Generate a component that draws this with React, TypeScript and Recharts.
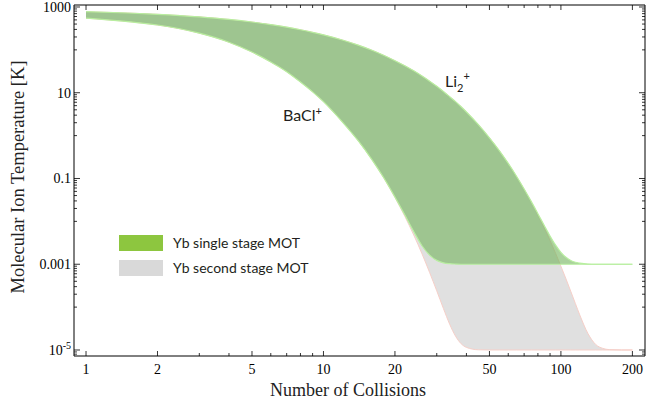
import { ComposedChart, Area, XAxis, YAxis } from "recharts";

// number of collisions (x) and temperatures (K)
const collisions = [
  1, 1.5, 2, 3, 4, 5, 6, 7, 8, 9, 10, 12, 14, 16, 18, 20, 22, 24, 26, 28, 30, 32, 34, 36, 38, 40, 45, 50,
  55, 60, 65, 70, 75, 80, 85, 90, 95, 100, 105, 110, 115, 120, 130, 140, 150, 160, 180, 200,
];

// BaCl+ (fast cooling edge) for the single stage MOT, floor ~1 mK
const baclSingle = [
  550, 457, 380, 245, 151, 89, 52, 31, 17.8, 10.5, 6.2, 2.1, 0.76, 0.276, 0.101, 0.037, 0.0142, 0.0058,
  0.0027, 0.00163, 0.00123, 0.00108, 0.00103, 0.00101, 0.001, 0.001, 0.001, 0.001, 0.001, 0.001, 0.001,
  0.001, 0.001, 0.001, 0.001, 0.001, 0.001, 0.001, 0.001, 0.001, 0.001, 0.001, 0.001, 0.001, 0.001, 0.001,
  0.001, 0.001,
];

// Li2+ (slow cooling edge) for the single stage MOT
const li2Single = [
  776, 724, 676, 589, 513, 447, 389, 339, 295, 257, 224, 170, 129, 98, 74, 56, 42.7, 32.4, 24.5, 18.6,
  14.1, 10.7, 8.1, 6.2, 4.7, 3.55, 1.78, 0.89, 0.448, 0.225, 0.113, 0.057, 0.0292, 0.0151, 0.00808,
  0.00455, 0.00278, 0.00189, 0.00145, 0.00122, 0.00111, 0.00106, 0.00101, 0.001, 0.001, 0.001, 0.001,
  0.001,
];

// same two edges for the second stage MOT, floor ~10 uK
const baclSecond = [
  550, 457, 380, 245, 151, 89, 52, 31, 17.8, 10.5, 6.2, 2.1, 0.76, 0.275, 0.1, 0.036, 0.0132, 0.0048,
  0.00175, 0.00064, 0.00024, 0.000093, 0.00004, 0.000021, 0.000014, 0.0000115, 0.0000101, 0.00001,
  0.00001, 0.00001, 0.00001, 0.00001, 0.00001, 0.00001, 0.00001, 0.00001, 0.00001, 0.00001, 0.00001,
  0.00001, 0.00001, 0.00001, 0.00001, 0.00001, 0.00001, 0.00001, 0.00001, 0.00001,
];

const li2Second = [
  776, 724, 676, 589, 513, 447, 389, 339, 295, 257, 224, 170, 129, 98, 74, 56, 42.7, 32.4, 24.5, 18.6,
  14.1, 10.7, 8.1, 6.2, 4.7, 3.55, 1.78, 0.89, 0.447, 0.224, 0.112, 0.056, 0.0282, 0.0141, 0.00709,
  0.00356, 0.00179, 0.0009, 0.000457, 0.000234, 0.000122, 0.000066, 0.0000241, 0.0000135, 0.0000109,
  0.0000102, 0.00001, 0.00001,
];

const xMajorTicks = [1, 2, 5, 10, 20, 50, 100, 200];
const xMinorTicks = [3, 4, 6, 7, 8, 9, 30, 40, 60, 70, 80, 90];
const yMajorTicks = [1e-5, 0.001, 0.1, 10, 1000];
const yMinorTicks = [
  8e-6, 9e-6, 1e-4, 2e-4, 3e-4, 4e-4, 5e-4, 6e-4, 7e-4, 8e-4, 9e-4, 0.01, 0.02, 0.03, 0.04, 0.05, 0.06,
  0.07, 0.08, 0.09, 1, 2, 3, 4, 5, 6, 7, 8, 9, 100, 200, 300, 400, 500, 600, 700, 800, 900,
];

const rows = collisions.map((n, i) => ({
  n,
  second: [baclSecond[i], li2Second[i]],
  single: [baclSingle[i], li2Single[i]],
}));

const xTicks = [...xMajorTicks, ...xMinorTicks].sort((a, b) => a - b);
const yTicks = [...yMajorTicks, ...yMinorTicks].sort((a, b) => a - b);

const SERIF = "'Liberation Serif', 'Times New Roman', serif";
const SANS = "Lato, 'Open Sans', sans-serif";

const isMajor = (list: number[], v: number) => list.some((m) => Math.abs(m - v) <= m * 1e-6);

const XTick = (props: any) => {
  const { x, y, payload, top } = props;
  const major = isMajor(xMajorTicks, payload.value);
  const len = major ? 5 : 3;
  return (
    <g>
      <line x1={x} x2={x} y1={y} y2={top ? y + len : y - len} stroke="#000" strokeWidth={0.8} />
      {!top && major && (
        <text x={x} y={y + 18} textAnchor="middle" fontFamily={SERIF} fontSize={14} fill="#000">
          {payload.value}
        </text>
      )}
    </g>
  );
};

const YTick = (props: any) => {
  const { x, y, payload, right } = props;
  const v = payload.value;
  const major = isMajor(yMajorTicks, v);
  const len = major ? 6 : 3;
  return (
    <g>
      <line x1={x} x2={right ? x - len : x + len} y1={y} y2={y} stroke="#000" strokeWidth={0.8} />
      {!right && major && (
        <text x={x - 3} y={y + 5} textAnchor="end" fontFamily={SERIF} fontSize={14} fill="#000">
          {v === 1e-5 ? (
            <>
              <tspan>10</tspan>
              <tspan dy={-6} fontSize={10}>
                -5
              </tspan>
            </>
          ) : (
            String(v)
          )}
        </text>
      )}
    </g>
  );
};

const axisLine = { stroke: "#000", strokeWidth: 1 };

export default function App() {
  return (
    <div style={{ position: "absolute", left: 0, top: 0, width: 646, height: 405, background: "#fff" }}>
      <ComposedChart width={646} height={405} data={rows} margin={{ top: 4, right: 0, left: 73, bottom: 48 }}>
        <XAxis
          dataKey="n"
          type="number"
          scale="log"
          domain={[0.89, 226]}
          allowDataOverflow
          ticks={xTicks}
          interval={0}
          height={1}
          tickSize={0}
          tickMargin={0}
          axisLine={axisLine}
          tickLine={false}
          tick={(p: any) => <XTick {...p} />}
        />
        <XAxis
          xAxisId="top"
          orientation="top"
          dataKey="n"
          type="number"
          scale="log"
          domain={[0.89, 226]}
          allowDataOverflow
          ticks={xTicks}
          interval={0}
          height={1}
          tickSize={0}
          tickMargin={0}
          axisLine={axisLine}
          tickLine={false}
          tick={(p: any) => <XTick {...p} top />}
        />
        <YAxis
          type="number"
          scale="log"
          domain={[7.24e-6, 1113]}
          allowDataOverflow
          ticks={yTicks}
          interval={0}
          width={1}
          tickSize={0}
          tickMargin={0}
          axisLine={axisLine}
          tickLine={false}
          tick={(p: any) => <YTick {...p} />}
        />
        <YAxis
          yAxisId="right"
          orientation="right"
          type="number"
          scale="log"
          domain={[7.24e-6, 1113]}
          allowDataOverflow
          ticks={yTicks}
          interval={0}
          width={1}
          tickSize={0}
          tickMargin={0}
          axisLine={axisLine}
          tickLine={false}
          tick={(p: any) => <YTick {...p} right />}
        />
        <Area
          dataKey="second"
          type="monotone"
          fill="#e0e0e0"
          fillOpacity={1}
          stroke="#f6cfc8"
          strokeWidth={1}
          dot={false}
          activeDot={false}
          isAnimationActive={false}
        />
        <Area
          dataKey="single"
          type="monotone"
          fill="#72b35a"
          fillOpacity={0.6}
          stroke="#b8eea0"
          strokeWidth={1.2}
          dot={false}
          activeDot={false}
          isAnimationActive={false}
        />
      </ComposedChart>
      <svg width={646} height={405} style={{ position: "absolute", left: 0, top: 0, pointerEvents: "none" }}>
        <text transform="translate(24,177) rotate(-90)" textAnchor="middle" fontFamily={SERIF} fontSize={18.5} fill="#222">
          Molecular Ion Temperature [K]
        </text>
        <text x={348} y={396} textAnchor="middle" fontFamily={SERIF} fontSize={18} fill="#222">
          Number of Collisions
        </text>
        <rect x={119} y={235} width={44} height={16} fill="#8dc63f" />
        <rect x={119} y={260} width={44} height={16} fill="#d9d9d9" />
        <text x={173} y={248} fontFamily={SANS} fontSize={14} fill="#231f20">
          Yb single stage MOT
        </text>
        <text x={173} y={273} fontFamily={SANS} fontSize={14} fill="#231f20">
          Yb second stage MOT
        </text>
        <text x={283} y={121} fontFamily={SANS} fontSize={16} fill="#231f20">
          BaCl<tspan dy={-6} fontSize={11}>+</tspan>
        </text>
        <text x={445} y={87} fontFamily={SANS} fontSize={16} fill="#231f20">
          Li<tspan dy={5} fontSize={11}>2</tspan>
          <tspan dy={-12} fontSize={11}>+</tspan>
        </text>
      </svg>
    </div>
  );
}
